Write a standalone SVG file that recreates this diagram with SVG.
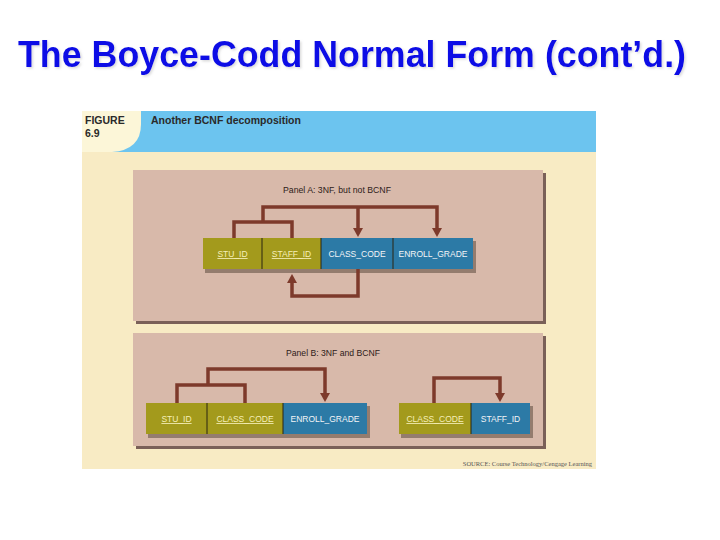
<svg xmlns="http://www.w3.org/2000/svg" width="720" height="540" viewBox="0 0 720 540">
<defs>
<style>
.title{font-family:"Liberation Sans",Arial,sans-serif;font-weight:bold;font-size:36px}
.fig{font-family:"Liberation Sans",Arial,sans-serif;font-weight:bold;font-size:10.5px;fill:#2a2a2a}
.ptitle{font-family:"Liberation Sans",Arial,sans-serif;font-size:8.6px;fill:#2e2018;text-anchor:middle}
.ctext{font-family:"Liberation Sans",Arial,sans-serif;font-size:8.5px;text-anchor:middle}
.key{fill:#f6efb8;text-decoration:underline}
.nonkey{fill:#f2f4f6}
.olive{fill:#a39a1c}
.blue{fill:#2c7aa6}
.shade{fill:#5c4a3c;opacity:0.55}
.sep{stroke:#2a2410;stroke-width:1}
.panel{fill:#d8b9aa}
.pshadow{fill:#7a6058}
.conn{fill:none;stroke:#7d3a2b;stroke-width:3.5;stroke-linejoin:miter}
.src{font-family:"Liberation Serif",serif;font-size:6.5px;fill:#555;text-anchor:end}
</style>
<filter id="tshadow" x="-5%" y="-30%" width="110%" height="160%">
<feDropShadow dx="1.5" dy="1.5" stdDeviation="0.8" flood-color="#999999" flood-opacity="0.35"/>
</filter>
<marker id="ah" viewBox="0 0 10 10" refX="1" refY="5" markerWidth="10" markerHeight="10" markerUnits="userSpaceOnUse" orient="auto">
<path d="M0,0 L9,5 L0,10 Z" fill="#7d3a2b"/>
</marker>
</defs>
<rect width="720" height="540" fill="#ffffff"/>
<g id="title">
<text class="title" x="18" y="67" fill="#0a0ae6" textLength="668" lengthAdjust="spacingAndGlyphs" filter="url(#tshadow)">The Boyce-Codd Normal Form (cont’d.)</text>
</g>
<g id="figure">
<rect x="82" y="111" width="514" height="358" fill="#f8ebc4"/>
<rect x="82" y="111" width="514" height="41" fill="#6cc4ef"/>
<path d="M82,111 H141 V124 Q141,150 112,152 H82 Z" fill="#fcf6d8"/>
<text class="fig" x="85" y="124">FIGURE</text>
<text class="fig" x="85" y="137">6.9</text>
<text class="fig" x="151" y="124">Another BCNF decomposition</text>
<text class="src" x="592" y="466">SOURCE: Course Technology/Cengage Learning</text>
</g>
<g id="panelA">
<rect class="pshadow" x="136" y="173" width="410" height="151"/>
<rect class="panel" x="133" y="170" width="410" height="151"/>
<text class="ptitle" x="337" y="193" textLength="108" lengthAdjust="spacingAndGlyphs">Panel A: 3NF, but not BCNF</text>
</g>
<g id="panelB">
<rect class="pshadow" x="136" y="336" width="410" height="113"/>
<rect class="panel" x="133" y="333" width="410" height="113"/>
<text class="ptitle" x="333" y="356" textLength="94" lengthAdjust="spacingAndGlyphs">Panel B: 3NF and BCNF</text>
</g>
<g id="tableA">
<rect class="shade" x="205" y="241" width="271" height="32"/>
<g id="a_stu_id"><rect class="olive" x="203" y="238" width="59" height="31"/><text class="ctext key" x="232.5" y="257">STU_ID</text></g>
<g id="a_staff_id"><rect class="olive" x="262" y="238" width="59" height="31"/><text class="ctext key" x="291.5" y="257">STAFF_ID</text></g>
<g id="a_class_code"><rect class="blue" x="321" y="238" width="72" height="31"/><text class="ctext nonkey" x="357" y="257">CLASS_CODE</text></g>
<g id="a_enroll_grade"><rect class="blue" x="393" y="238" width="80" height="31"/><text class="ctext nonkey" x="433" y="257">ENROLL_GRADE</text></g>
<line class="sep" x1="262" y1="238" x2="262" y2="269"/>
<line class="sep" x1="321" y1="238" x2="321" y2="269"/>
<line class="sep" x1="393" y1="238" x2="393" y2="269"/>
</g>
<g id="tableB1">
<rect class="shade" x="148" y="406" width="222" height="32"/>
<g id="b_stu_id"><rect class="olive" x="146" y="403" width="61" height="31"/><text class="ctext key" x="176.5" y="422">STU_ID</text></g>
<g id="b_class_code"><rect class="olive" x="207" y="403" width="76" height="31"/><text class="ctext key" x="245" y="422">CLASS_CODE</text></g>
<g id="b_enroll_grade"><rect class="blue" x="283" y="403" width="84" height="31"/><text class="ctext nonkey" x="325" y="422">ENROLL_GRADE</text></g>
<line class="sep" x1="207" y1="403" x2="207" y2="434"/>
<line class="sep" x1="283" y1="403" x2="283" y2="434"/>
</g>
<g id="tableB2">
<rect class="shade" x="401" y="406" width="132" height="32"/>
<g id="b2_class_code"><rect class="olive" x="399" y="403" width="72" height="31"/><text class="ctext key" x="435" y="422">CLASS_CODE</text></g>
<g id="b2_staff_id"><rect class="blue" x="471" y="403" width="59" height="31"/><text class="ctext nonkey" x="500.5" y="422">STAFF_ID</text></g>
<line class="sep" x1="471" y1="403" x2="471" y2="434"/>
</g>
<g id="connectors">
<path class="conn" d="M234,238 V222 H292 V238"/>
<path class="conn" d="M263,222 V207 H437 V229" marker-end="url(#ah)"/>
<path class="conn" d="M358,207 V229" marker-end="url(#ah)"/>
<path class="conn" d="M358,269 V296 H292 V282" marker-end="url(#ah)"/>
<path class="conn" d="M177,403 V385 H245 V403"/>
<path class="conn" d="M208,385 V369 H325 V394" marker-end="url(#ah)"/>
<path class="conn" d="M434,403 V378 H500 V394" marker-end="url(#ah)"/>
</g>
</svg>
